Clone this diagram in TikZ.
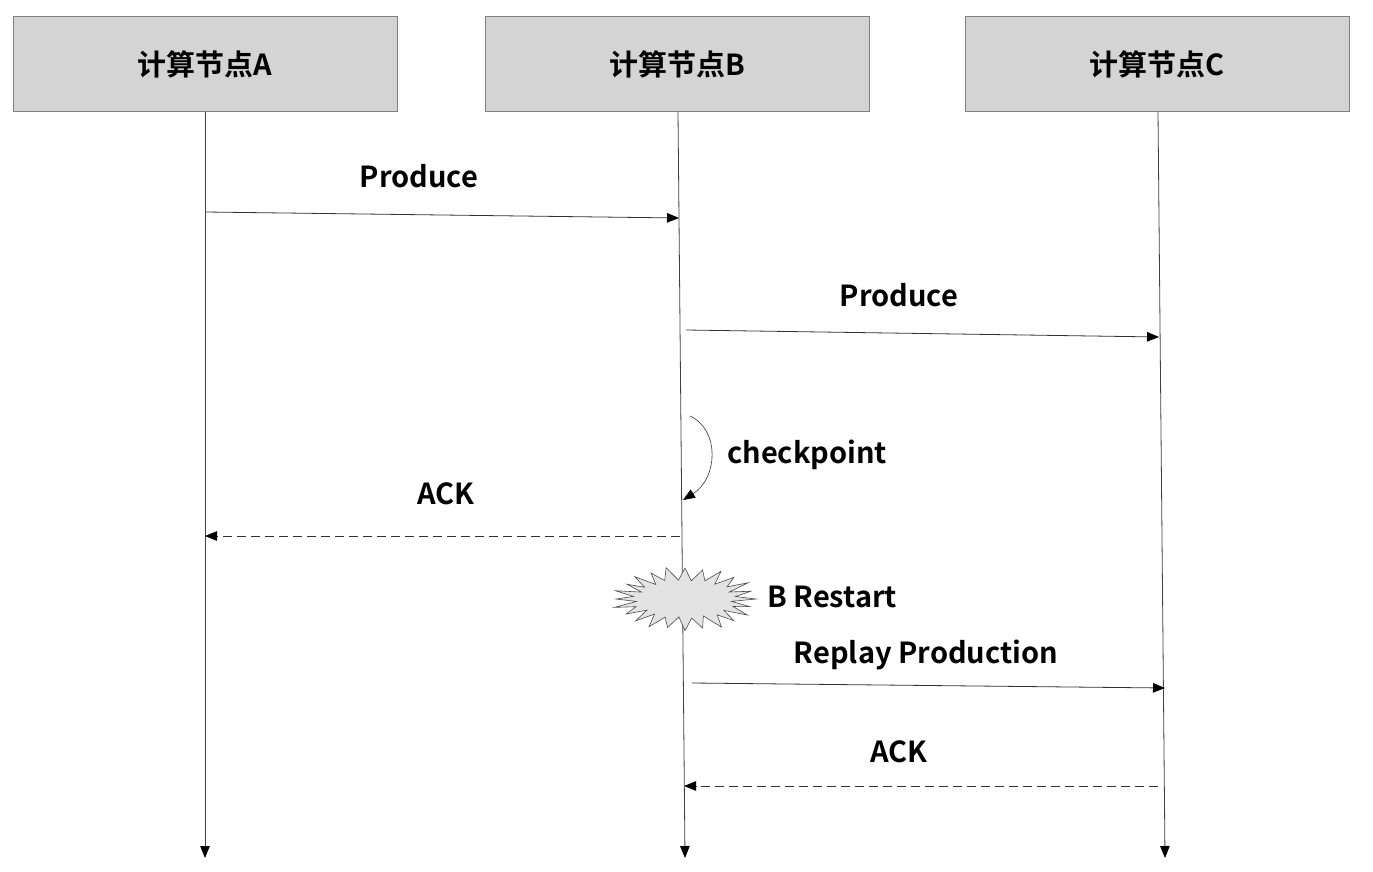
\documentclass[tikz,border=0pt]{standalone}
\usepackage{fontspec}
\setmainfont{Noto Sans CJK SC}[BoldFont={Noto Sans CJK SC Bold}]
\usetikzlibrary{arrows.meta}
\definecolor{boxfill}{HTML}{D4D4D4}
\definecolor{boxline}{HTML}{7F7F7F}
\definecolor{lifeline}{HTML}{404040}
\definecolor{burstfill}{HTML}{E3E3E3}
\begin{document}
\begin{tikzpicture}[x=1pt,y=-1pt,
  hdr/.style={draw=boxline,fill=boxfill,line width=1pt,minimum width=384pt,minimum height=95pt,inner sep=0pt,font=\fontsize{29}{33}\selectfont\bfseries},
  lbl/.style={font=\fontsize{29}{33}\selectfont\bfseries,inner sep=0pt},
  tip/.style={-{Triangle[length=12pt,width=9.5pt,fill=black,color=black]}},
  life/.style={draw=lifeline,line width=0.8pt,tip},
  msg/.style={draw=black!80,line width=0.8pt,tip},
  ret/.style={draw=black!80,line width=0.8pt,tip,dash pattern=on 9pt off 5pt},
  burststyle/.style={draw=black!70,fill=burstfill,line width=0.6pt,line join=miter}]
\useasboundingbox (0,0) rectangle (1373,872);
\node[hdr] (A) at (205,64) {计算节点A};
\node[hdr] (B) at (677,64) {计算节点B};
\node[hdr] (C) at (1157,64) {计算节点C};
\coordinate (Aend) at (205,858);
\coordinate (Bend) at (685,858);
\coordinate (Cend) at (1165,858);
\draw[life] (A.south) -- (Aend);
\draw[life] (678,112) -- (Bend);
\draw[life] (1158,112) -- (Cend);
% message points
\coordinate (a1) at (205,212); \coordinate (b1) at (679,218);
\coordinate (b2) at (686,330); \coordinate (c2) at (1159,337);
\coordinate (b3) at (680,536); \coordinate (a3) at (205,536);
\coordinate (b4) at (692,683); \coordinate (c4) at (1165,688);
\coordinate (c5) at (1158,786); \coordinate (b5) at (684,786);
\coordinate (k1) at (690,416); \coordinate (k2) at (683,500);
\draw[msg] (a1) -- (b1);
\draw[msg] (b2) -- (c2);
\draw[ret] (b3) -- (a3);
\draw[msg] (b4) -- (c4);
\draw[ret] (c5) -- (b5);
\draw[msg,line width=0.6pt] (k1) .. controls (720,430) and (718,478) .. (k2);
\node[lbl] (l1) at (419,176) {Produce};
\node[lbl] (l2) at (899,295) {Produce};
\node[lbl,anchor=west] (l3) at (727,455) {checkpoint};
\node[lbl] (l4) at (446,494) {ACK};
% starburst
\coordinate (burst) at (685,599);
\begin{scope}[shift={(burst)}]
\draw[burststyle] (0:71 and 31)
  \foreach \k/\d in {1/-3,2/2,3/-1,4/3,5/-2,6/1,7/-3,8/2,9/0,10/-2,11/3,12/-1,13/2,14/-3,15/1,16/-2,17/3,18/0,19/-2,20/2,21/-1,22/3,23/-2}
  { -- ({\k*15-7.5}:{50+\d} and {19+\d/3}) -- ({\k*15}:{70+\d} and {31+\d/2}) }
  -- (352.5:51 and 19) -- cycle;
\end{scope}
\node[lbl,anchor=west] (l5) at (767,597) {B Restart};
\node[lbl] (l6) at (926,655) {Replay Production};
\node[lbl] (l7) at (899,752) {ACK};
\end{tikzpicture}
\end{document}
